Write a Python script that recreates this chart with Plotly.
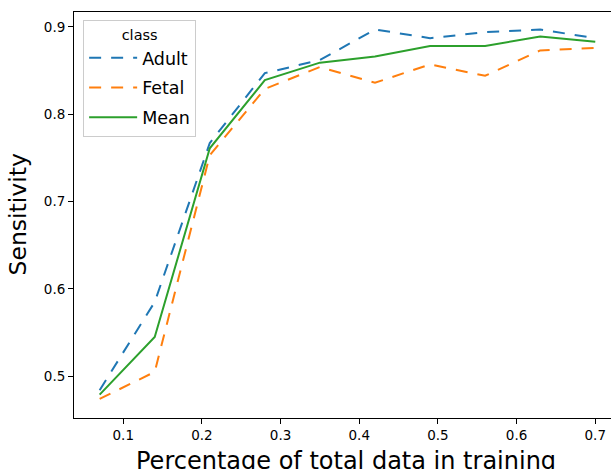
import plotly.graph_objects as go

x_frac = [0.07, 0.14, 0.21, 0.28, 0.35, 0.42, 0.49, 0.56, 0.63, 0.70]
adult = [0.484, 0.585, 0.767, 0.847, 0.862, 0.897, 0.887, 0.894, 0.897, 0.887]
fetal = [0.474, 0.505, 0.753, 0.829, 0.854, 0.836, 0.857, 0.844, 0.873, 0.876]
mean = [0.479, 0.545, 0.761, 0.839, 0.859, 0.866, 0.878, 0.878, 0.889, 0.883]

x_ticks = [0.1, 0.2, 0.3, 0.4, 0.5, 0.6, 0.7]
y_ticks = [0.5, 0.6, 0.7, 0.8, 0.9]

FONT = "DejaVu Sans"

fig = go.Figure()
series = [("Adult", adult, "#1f77b4", "12px,10px"),
          ("Fetal", fetal, "#ff7f0e", "12px,10px"),
          ("Mean", mean, "#2ca02c", "solid")]
for name, vals, col, dash in series:
    fig.add_trace(go.Scatter(x=x_frac, y=vals, mode="lines", name=name,
                             legendgroup=name,
                             line=dict(color=col, width=2, dash=dash)))

fig.update_layout(
    width=611, height=469,
    margin=dict(l=74, r=0, t=12, b=51, pad=0),
    plot_bgcolor="white", paper_bgcolor="white",
    font=dict(family=FONT, color="black", size=13.5),
    showlegend=True,
    legend=dict(
        x=0.017, y=0.98, xanchor="left", yanchor="top",
        bgcolor="rgba(255,255,255,0.8)", bordercolor="#cccccc", borderwidth=1,
        font=dict(family=FONT, size=17.5, color="black"),
        title=dict(text="class", side="top center", font=dict(family=FONT, size=14.5)),
        tracegroupgap=4, itemwidth=48,
    ),
    xaxis=dict(range=[0.0374, 0.72], tickvals=x_ticks, ticktext=[str(t) for t in x_ticks],
               showgrid=False, zeroline=False, showline=True, linecolor="black", linewidth=1,
               mirror=True, ticks="outside", ticklen=5, tickwidth=1, tickcolor="black",
               tickfont=dict(family=FONT, size=13.5)),
    yaxis=dict(range=[0.4522, 0.917], tickvals=y_ticks, ticktext=[str(t) for t in y_ticks],
               showgrid=False, zeroline=False, showline=True, linecolor="black", linewidth=1,
               mirror=False, ticks="outside", ticklen=5, tickwidth=1, tickcolor="black",
               tickfont=dict(family=FONT, size=13.5)),
    annotations=[
        dict(text="Percentage of total data in training", xref="paper", yref="paper",
             x=0.5074, y=-0.106, xanchor="center", yanchor="middle", showarrow=False,
             font=dict(family=FONT, size=24, color="black")),
        dict(text="Sensitivity", xref="paper", yref="paper", textangle=-90,
             x=-0.104, y=0.5017, xanchor="center", yanchor="middle", showarrow=False,
             font=dict(family=FONT, size=23.5, color="black")),
    ],
)

fig.write_html("out.html", config={"displayModeBar": False},
               post_script="document.body.style.margin='0';document.body.style.overflow='hidden';")
